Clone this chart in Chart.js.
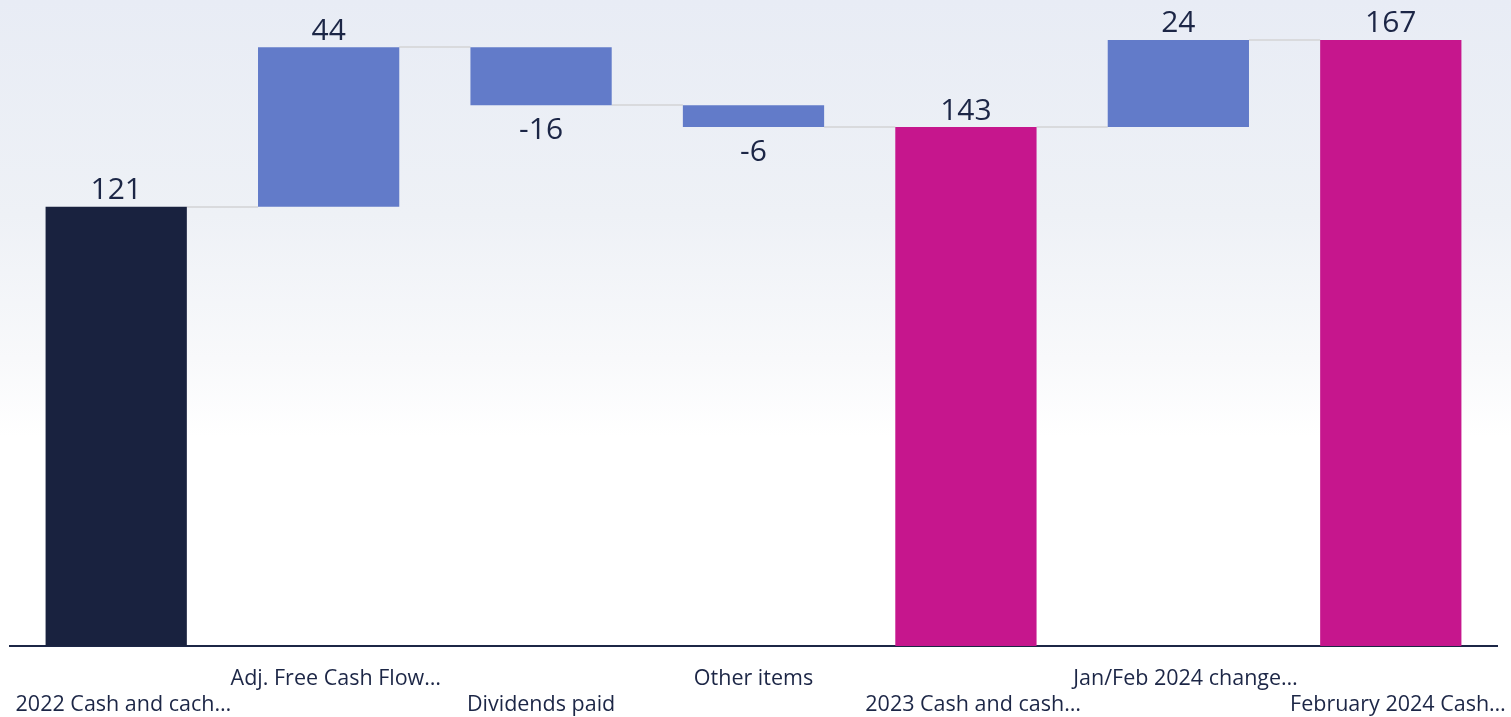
<!DOCTYPE html>
<html>
<head>
<meta charset="utf-8">
<script src="https://cdn.jsdelivr.net/npm/chart.js@4.4.0/dist/chart.umd.min.js"></script>
<style>
  html, body { margin: 0; padding: 0; }
  body { width: 1511px; height: 717px; background: linear-gradient(to bottom, #e8ecf5 0%, #eef1f6 30%, #f8f9fb 50%, #ffffff 61%, #ffffff 100%); }
  #wrap { position: relative; width: 1511px; height: 717px; }
</style>
</head>
<body>
<div id="wrap"><canvas id="c" width="1511" height="717"></canvas></div>
<script>
const categories = ["2022 Cash and cach…", "Adj. Free Cash Flow…", "Dividends paid", "Other items", "2023 Cash and cash…", "Jan/Feb 2024 change…", "February 2024 Cash…"];
const values = [121, 44, -16, -6, 143, 24, 167];
const kinds = ["start", "delta", "delta", "delta", "total", "delta", "total"];
const kindColors = { start: "#19223f", delta: "#627bc9", total: "#c6168d" };
const yMin = 0, yMax = 178;

// build floating ranges
const ranges = [];
let running = 0;
values.forEach((v, i) => {
  if (kinds[i] === "delta") { ranges.push([running, running + v]); running += v; }
  else { ranges.push([0, v]); running = v; }
});
const levels = ranges.map(r => r[1]);

const textColor = "#1c2646";

const connectorPlugin = {
  id: "connectors",
  beforeDatasetsDraw(chart) {
    const ctx = chart.ctx, meta = chart.getDatasetMeta(0), y = chart.scales.y;
    ctx.save();
    ctx.strokeStyle = "#d9dadd";
    ctx.lineWidth = 2;
    for (let i = 0; i < meta.data.length - 1; i++) {
      const a = meta.data[i], b = meta.data[i + 1];
      const py = Math.round(y.getPixelForValue(levels[i]));
      ctx.beginPath();
      ctx.moveTo(a.x + a.width / 2, py);
      ctx.lineTo(b.x - b.width / 2, py);
      ctx.stroke();
    }
    ctx.restore();
  }
};

const labelPlugin = {
  id: "valueLabels",
  afterDatasetsDraw(chart) {
    const ctx = chart.ctx, meta = chart.getDatasetMeta(0), y = chart.scales.y;
    ctx.save();
    ctx.font = "30px 'Open Sans'";
    ctx.fillStyle = textColor;
    ctx.textAlign = "center";
    meta.data.forEach((bar, i) => {
      const v = values[i];
      const r = ranges[i];
      if (v >= 0) {
        ctx.textBaseline = "bottom";
        ctx.fillText(String(v), bar.x, y.getPixelForValue(Math.max(r[0], r[1])) - 1);
      } else {
        ctx.textBaseline = "top";
        ctx.fillText(String(v), bar.x, y.getPixelForValue(Math.min(r[0], r[1])) + 10);
      }
    });
    ctx.restore();
  }
};

new Chart(document.getElementById("c"), {
  type: "bar",
  data: {
    labels: categories,
    datasets: [{
      data: ranges,
      backgroundColor: kinds.map(k => kindColors[k]),
      borderWidth: 0,
      barPercentage: 0.665,
      categoryPercentage: 1.0
    }]
  },
  options: {
    responsive: false,
    animation: false,
    layout: { padding: { left: 10, right: 14, top: 0, bottom: 0 } },
    plugins: { legend: { display: false }, tooltip: { enabled: false } },
    scales: {
      x: {
        grid: { display: false },
        border: { display: true, color: "#1c2646", width: 2 },
        ticks: {
          autoSkip: false,
          maxRotation: 0,
          minRotation: 0,
          padding: 12,
          color: textColor,
          font: { family: "'Open Sans'", size: 21.5, lineHeight: 1.21 },
          callback: function (val, i) {
            let l = categories[i];
            // truncated labels sit slightly right of the bar centre in the original
            if (l.endsWith("…")) l = "\u2002\u2009" + l;
            return i % 2 === 1 ? [l, ""] : ["", l];
          }
        },
        afterFit(scale) { scale.height = 71; scale.paddingLeft = 0; scale.paddingRight = 0; }
      },
      y: {
        display: false,
        min: yMin,
        max: yMax
      }
    }
  },
  plugins: [connectorPlugin, labelPlugin]
});
</script>
</body>
</html>
